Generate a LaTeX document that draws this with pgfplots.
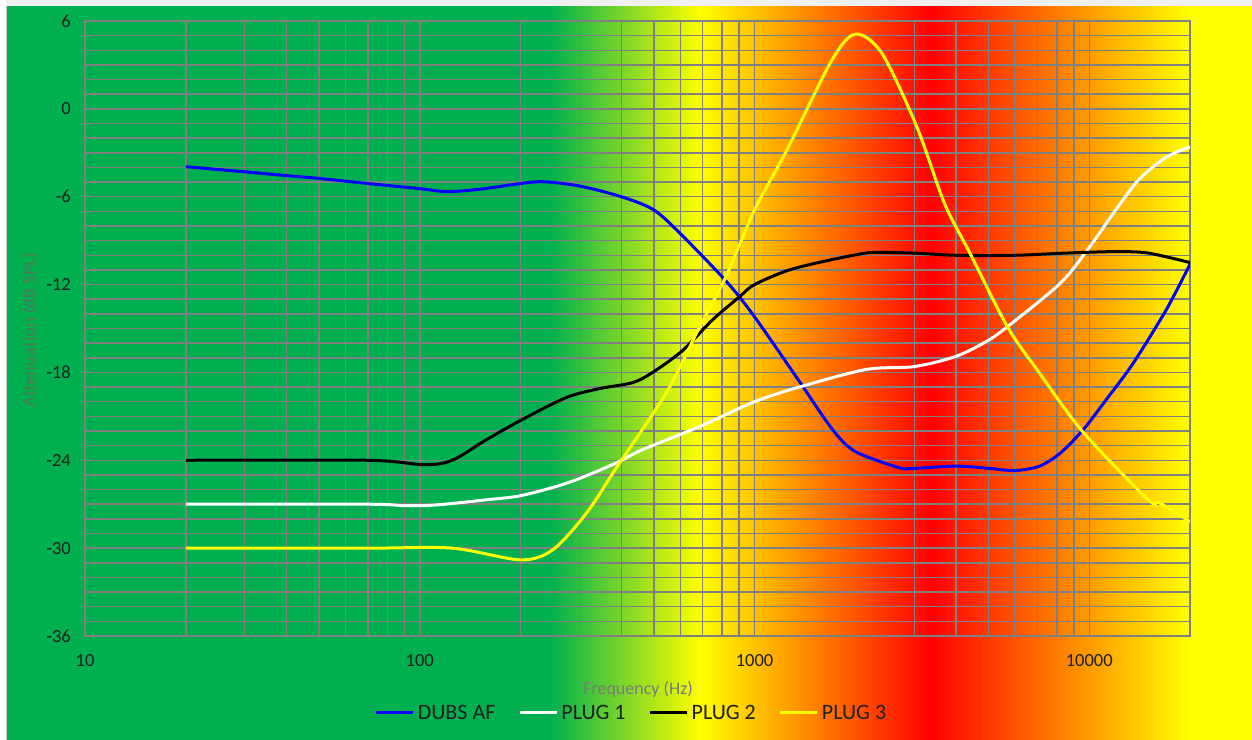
\documentclass[border=0pt]{standalone}
\usepackage{fontspec}
\setmainfont{Carlito}
\usepackage{pgfplots}
\pgfplotsset{compat=1.18}
\definecolor{xlgreen}{HTML}{00B050}
\definecolor{gridgray}{HTML}{808080}
\definecolor{dubs}{HTML}{0000FF}
\definecolor{plugyel}{HTML}{FFFF00}
\definecolor{bgred}{HTML}{FF0000}
\definecolor{xtitle}{HTML}{7A7A7A}
\definecolor{ytitle}{HTML}{4E7A58}

\begin{document}
\begin{tikzpicture}
% chart area background (1pt = 1px of the reference)
\fill[white] (-3pt,-3pt) rectangle (1255pt,742pt);
\fill[xlgreen] (7pt,-3pt) rectangle (550.5pt,733pt);
\shade[left color=xlgreen, right color=plugyel] (550pt,-3pt) rectangle (700.5pt,733pt);
\shade[left color=plugyel, right color=bgred] (700pt,-3pt) rectangle (930.5pt,733pt);
\shade[left color=bgred, right color=plugyel] (930pt,-3pt) rectangle (1190.5pt,733pt);
\fill[plugyel] (1190pt,-3pt) rectangle (1255pt,733pt);
\fill[gray!12] (-3pt,733pt) rectangle (1255pt,742pt);
\fill[white] (-3pt,-3pt) rectangle (6pt,742pt);
\draw[gray!40, line width=1pt] (6.5pt,-3pt) -- (6.5pt,733pt);

\begin{axis}[
  at={(85pt,103pt)}, anchor=south west,
  scale only axis, width=1105pt, height=615pt,
  xmode=log, log basis x=10,
  xmin=10, xmax=20000, ymin=-36, ymax=6,
  xtick={10,100,1000,10000}, xticklabels={10,100,1000,10000},
  minor xtick={20,30,40,50,60,70,80,90,200,300,400,500,600,700,800,900,2000,3000,4000,5000,6000,7000,8000,9000},
  ytick={-36,-30,-24,-18,-12,-6,0,6},
  yticklabels={-36,-30,-24,-18,-12,-6,0,6},
  minor ytick={-35,-34,...,5},
  grid=both,
  major grid style={gridgray, line width=1.5pt},
  minor grid style={gridgray, line width=1.5pt},
  axis line style={gridgray, line width=1.5pt},
  major tick length=0pt, minor tick length=0pt,
  /pgf/number format/assume math mode=true,
  tick label style={font=\fontsize{18.5}{22}\selectfont, text=black!88},
  yticklabel style={anchor=east, inner sep=0pt, xshift=-14pt},
  xticklabel style={anchor=north, inner sep=0pt, yshift=-18pt},
  xlabel={Frequency (Hz)},
  ylabel={Attenuation (dB SPL)},
  xlabel style={at={(axis description cs:0.5005,-0.0862)}, anchor=center,
    font=\fontsize{18}{21}\selectfont, text=xtitle},
  ylabel style={at={(axis description cs:-0.0498,0.4976)}, anchor=center,
    font=\fontsize{18.5}{22}\selectfont, text=ytitle},
  legend columns=4,
  legend style={at={(axis description cs:0.495,-0.125)}, anchor=center,
    draw=none, fill=none, font=\fontsize{22}{26}\selectfont, text=black!88,
    nodes={inner sep=3pt},
    /tikz/every even column/.append style={column sep=20pt}},
  legend image code/.code={\draw[#1] (0pt,0pt) -- (37pt,0pt);},
  every axis plot/.append style={line width=3pt, smooth},
]
\addplot[dubs] coordinates {
 (20,-3.95) (30,-4.3) (40,-4.56) (50,-4.75) (70,-5.1) (100,-5.45) (120,-5.65)
 (150,-5.5) (200,-5.1) (235,-4.98) (300,-5.27) (400,-6.0) (500,-6.9) (605,-8.6)
 (825,-11.8) (1000,-14.2) (1360,-18.6) (1710,-21.9)
 (2000,-23.4) (2700,-24.5) (3000,-24.55) (4000,-24.4) (5000,-24.55) (6000,-24.7)
 (7100,-24.4) (8200,-23.5) (9600,-21.9) (11200,-19.9) (13500,-17.4) (17000,-13.7)
 (20000,-10.6)};
\addlegendentry{DUBS AF}
\addplot[white] coordinates {
 (20,-27.0) (70,-27.0) (90,-27.1) (112,-27.05) (158,-26.7) (202,-26.4) (280,-25.5)
 (385,-24.2) (460,-23.3) (685,-21.7) (1000,-20.0) (1360,-19.0) (2150,-17.8)
 (3000,-17.6) (4000,-16.9) (5000,-15.8) (5900,-14.6) (8200,-11.9) (9900,-9.6)
 (12000,-6.9) (14100,-4.8) (17000,-3.3) (20000,-2.6)};
\addlegendentry{PLUG 1}
\addplot[black] coordinates {
 (20,-24.0) (70,-24.0) (103,-24.3) (125,-24.0) (158,-22.6) (203,-21.2) (275,-19.7)
 (345,-19.1) (432,-18.7) (496,-18.0) (610,-16.5) (750,-14.4) (900,-12.85)
 (1000,-12.0) (1270,-11.0) (1700,-10.3) (2150,-9.85) (2400,-9.8) (3000,-9.85)
 (4000,-10.0) (6000,-10.0) (8500,-9.85) (12000,-9.75) (15000,-9.85) (20000,-10.5)};
\addlegendentry{PLUG 2}
\addplot[plugyel] coordinates {
 (20,-30.0) (70,-30.0) (125,-30.0) (200,-30.8) (250,-30.1) (315,-27.6) (387,-24.5)
 (545,-19.4) (685,-14.9) (820,-11.5) (1000,-6.9) (1250,-2.8)
 (1700,3.3) (2000,5.1) (2400,3.8) (3050,-1.2) (3700,-6.5) (4400,-9.85)
 (5700,-14.9) (7100,-18.05) (9600,-22.1) (15000,-26.7) (16200,-26.9) (20000,-28.2)};
\addlegendentry{PLUG 3}
\end{axis}
\pgfresetboundingbox
\useasboundingbox (0pt,0pt) rectangle (1252pt,739pt);
\end{tikzpicture}
\end{document}
